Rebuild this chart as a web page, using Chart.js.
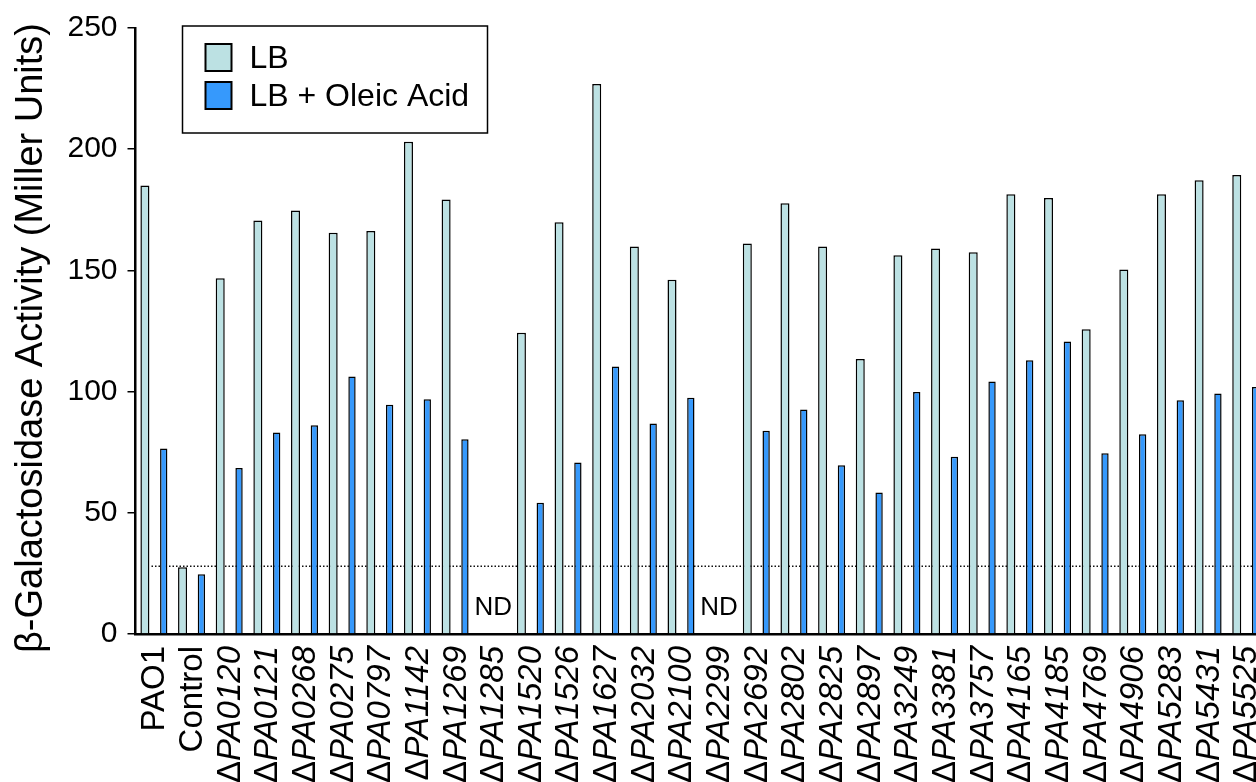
<!DOCTYPE html>
<html>
<head>
<meta charset="utf-8">
<script src="https://cdn.jsdelivr.net/npm/chart.js@4"></script>
<style>
  html, body { margin: 0; padding: 0; overflow: hidden; background: #fff; }
  #wrap { width: 1265px; height: 782px; }
</style>
</head>
<body>
<div id="wrap"><canvas id="c" width="1265" height="782"></canvas></div>
<script>
// ---------------- data ----------------
const categories = ['PAO1','Control','ΔPA0120','ΔPA0121','ΔPA0268','ΔPA0275','ΔPA0797','ΔPA1142','ΔPA1269','ΔPA1285',
  'ΔPA1520','ΔPA1526','ΔPA1627','ΔPA2032','ΔPA2100','ΔPA2299','ΔPA2692','ΔPA2802','ΔPA2825','ΔPA2897',
  'ΔPA3249','ΔPA3381','ΔPA3757','ΔPA4165','ΔPA4185','ΔPA4769','ΔPA4906','ΔPA5283','ΔPA5431','ΔPA5525'];
const lbValues = [185.0, 27.5, 146.8, 170.6, 174.7, 165.5, 166.3, 203.1, 179.2, null,
  124.3, 169.9, 226.9, 159.9, 146.1, null, 161.1, 177.7, 159.9, 113.4,
  156.2, 159.0, 157.5, 181.4, 179.9, 125.7, 150.4, 181.4, 187.2, 189.4];
const oleicValues = [76.5, 24.6, 68.5, 83.1, 86.1, 106.2, 94.6, 96.8, 80.3, null,
  54.1, 70.7, 110.4, 86.8, 97.5, null, 83.8, 92.6, 69.6, 58.4,
  99.8, 73.1, 104.2, 112.9, 120.7, 74.6, 82.4, 96.4, 99.2, 101.9];
const seriesLabels = ['LB', 'LB + Oleic Acid'];
const yTicks = [0, 50, 100, 150, 200, 250];
const backgroundLevel = 28;      // dotted detection line
const ndText = 'ND';
const yTitle = 'β-Galactosidase Activity (Miller Units)';

// ---------------- style ----------------
const FONT = '"Liberation Sans", Arial, Helvetica, sans-serif';
const colLB = '#bce1e3';
const colOA = '#3699fc';
Chart.defaults.font.family = FONT;
Chart.defaults.color = '#000';

const dottedLine = {
  id: 'dottedLine',
  beforeDatasetsDraw(chart) {
    const {ctx, chartArea} = chart;
    const y = chart.scales.y.getPixelForValue(backgroundLevel);
    ctx.save();
    ctx.strokeStyle = '#111';
    ctx.lineWidth = 1.5;
    ctx.setLineDash([1.5, 2]);
    ctx.beginPath();
    ctx.moveTo(chartArea.left + 16, y);
    ctx.lineTo(chart.width, y);
    ctx.stroke();
    ctx.restore();
  }
};

const extras = {
  id: 'extras',
  afterDraw(chart) {
    const {ctx, chartArea} = chart;
    const xs = chart.scales.x, ys = chart.scales.y;
    ctx.save();
    ctx.fillStyle = '#000';
    // y axis title
    ctx.save();
    ctx.font = '38px ' + FONT;
    ctx.translate(42, chartArea.bottom + 19);
    ctx.rotate(-Math.PI / 2);
    ctx.textAlign = 'left';
    ctx.textBaseline = 'alphabetic';
    ctx.fillText(yTitle, 0, 0);
    ctx.restore();
    // ND markers
    ctx.font = '26px ' + FONT;
    ctx.textAlign = 'center';
    ctx.textBaseline = 'middle';
    categories.forEach((c, i) => {
      if (lbValues[i] === null && oleicValues[i] === null) {
        ctx.fillText(ndText, xs.getPixelForValue(i), ys.getPixelForValue(11));
      }
    });
    // x labels (Δ upright, gene name italic)
    categories.forEach((lab, i) => {
      const x = xs.getPixelForValue(i);
      const parts = lab.startsWith('Δ') ? [['Δ', false], [lab.slice(1), true]] : [[lab, false]];
      ctx.save();
      ctx.translate(x + 10, chartArea.bottom + 12);
      ctx.rotate(-Math.PI / 2);
      ctx.textAlign = 'left';
      ctx.textBaseline = 'alphabetic';
      let total = 0;
      const ws = parts.map(p => {
        ctx.font = (p[1] ? 'italic ' : '') + '33px ' + FONT;
        const w = ctx.measureText(p[0]).width;
        total += w;
        return w;
      });
      let pos = -total;
      parts.forEach((p, k) => {
        ctx.font = (p[1] ? 'italic ' : '') + '33px ' + FONT;
        ctx.fillText(p[0], pos, 0);
        pos += ws[k];
      });
      ctx.restore();
    });
    // legend box
    const bx = chartArea.left + 47, by = chartArea.top - 2, bw = 305, bh = 107;
    ctx.lineWidth = 1.5;
    ctx.strokeStyle = '#000';
    ctx.fillStyle = '#fff';
    ctx.fillRect(bx, by, bw, bh);
    ctx.strokeRect(bx, by, bw, bh);
    chart.data.datasets.forEach((ds, k) => {
      const sy = by + 18 + k * 38;
      ctx.fillStyle = ds.backgroundColor;
      ctx.fillRect(bx + 23, sy, 26, 27);
      ctx.lineWidth = 2;
      ctx.strokeRect(bx + 23, sy, 26, 27);
      ctx.fillStyle = '#000';
      ctx.font = '32px ' + FONT;
      ctx.textAlign = 'left';
      ctx.textBaseline = 'middle';
      ctx.fillText(ds.label, bx + 67, sy + 15);
    });
    ctx.restore();
  }
};

new Chart(document.getElementById('c'), {
  type: 'bar',
  data: {
    labels: categories,
    datasets: [
      { label: seriesLabels[0], data: lbValues, backgroundColor: colLB, borderColor: '#000',
        borderWidth: 1.5, borderSkipped: 'start', barPercentage: 0.48, categoryPercentage: 1.0 },
      { label: seriesLabels[1], data: oleicValues, backgroundColor: colOA, borderColor: '#000',
        borderWidth: 1.5, borderSkipped: 'start', barPercentage: 0.39, categoryPercentage: 1.0 }
    ]
  },
  options: {
    responsive: false,
    animation: false,
    devicePixelRatio: 1,
    layout: { padding: { left: 0, right: 0, top: 27, bottom: 0 } },
    plugins: { legend: { display: false }, tooltip: { enabled: false }, title: { display: false } },
    scales: {
      x: {
        type: 'category',
        offset: true,
        grid: { display: false },
        ticks: { display: false },
        border: { display: true, color: '#000', width: 2.5 },
        afterFit(s) { s.height = 148; }
      },
      y: {
        min: 0, max: 250,
        afterBuildTicks(s) { s.ticks = yTicks.map(v => ({ value: v })); },
        ticks: { font: { size: 30 }, color: '#000', padding: 10 },
        grid: { drawOnChartArea: false, drawTicks: true, tickLength: 8, color: '#000', lineWidth: 1.5 },
        border: { display: true, color: '#000', width: 2.5 },
        title: { display: false },
        afterFit(s) { s.width = 135.5; }
      }
    }
  },
  plugins: [dottedLine, extras]
});
</script>
</body>
</html>
